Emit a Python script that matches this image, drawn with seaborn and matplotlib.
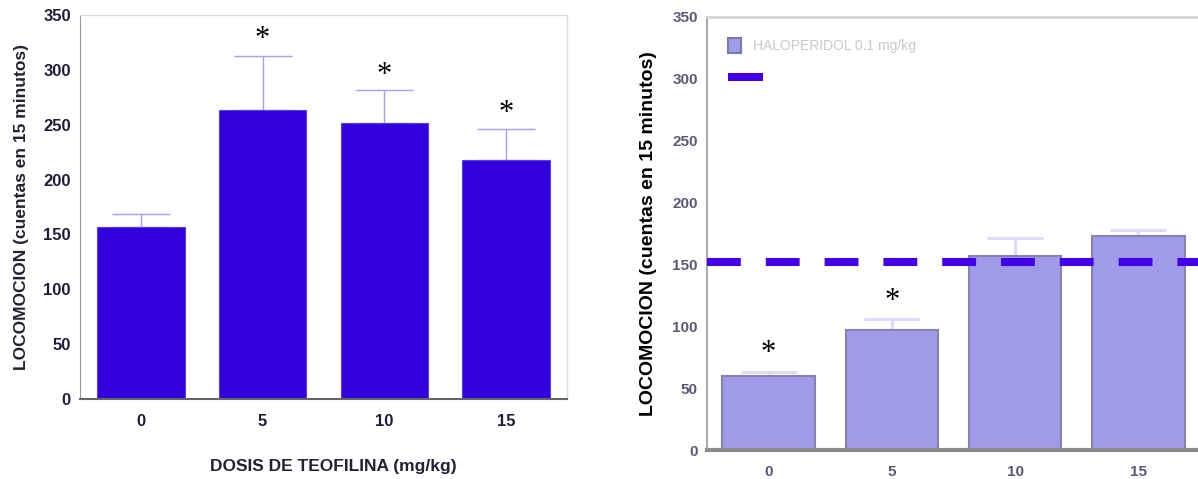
import numpy as np
import matplotlib
matplotlib.use("Agg")
import matplotlib.pyplot as plt
import matplotlib.patches as mpatches
from matplotlib.lines import Line2D
from matplotlib.legend_handler import HandlerPatch
import seaborn as sns

# data
doses = ["0", "5", "10", "15"]
teofilina_mean = [157, 263, 252, 218]
teofilina_sem = [12, 50, 30, 28]
teofilina_star = [None, 328, 295, 260]

haloperidol_mean = [60, 97, 157, 173]
haloperidol_sem = [3, 9, 14, 5]
haloperidol_star = [78, 120, None, None]
control_level = 152

y_ticks = [0, 50, 100, 150, 200, 250, 300, 350]
ylabel_txt = "LOCOMOCION (cuentas en 15 minutos)"

sns.set_style("white")
plt.rcParams["font.family"] = ["Liberation Sans", "DejaVu Sans"]

fig = plt.figure(figsize=(11.98, 4.79), dpi=100)
ax1 = fig.add_axes([80 / 1198, 80 / 479, 487 / 1198, 384 / 479])
ax2 = fig.add_axes([707 / 1198, 29 / 479, 493 / 1198, 433 / 479])

# ---- left panel: teofilina ----
sns.barplot(x=doses, y=teofilina_mean, color="#3300dd", saturation=1,
            width=0.72, errorbar=None, ax=ax1, edgecolor="#5a3fe6", linewidth=0.8)
ax1.errorbar(np.arange(len(doses)), teofilina_mean,
             yerr=[np.zeros(len(doses)), teofilina_sem], fmt="none",
             ecolor="#a99ff2", elinewidth=1, capsize=21, capthick=1, zorder=0.5)
for i, s in enumerate(teofilina_star):
    if s is not None:
        ax1.text(i, s, "*", ha="center", va="center", fontsize=22,
                 family="Liberation Serif", color="black")

ax1.set_ylim(0, 350)
ax1.set_xlim(-0.5, 3.5)
ax1.set_yticks(y_ticks)
ax1.tick_params(axis="both", labelsize=12, colors="#888888", length=3, width=0.8)
ax1.tick_params(axis="x", pad=8)
for lab in ax1.get_xticklabels() + ax1.get_yticklabels():
    lab.set_color("#1d1d3a")
    lab.set_fontweight("bold")
for side in ["top", "right"]:
    ax1.spines[side].set_color("#dddddd")
    ax1.spines[side].set_linewidth(1)
ax1.spines["left"].set_color("#999999")
ax1.spines["bottom"].set_color("#666666")
ax1.spines["bottom"].set_linewidth(1.5)
ax1.set_ylabel(ylabel_txt, fontsize=12.5, fontweight="bold", color="#222233")
ax1.yaxis.set_label_coords(-0.105, 0.5)
ax1.set_xlabel("DOSIS DE TEOFILINA (mg/kg)", fontsize=12.5, fontweight="bold", color="#222233")
ax1.xaxis.set_label_coords(0.52, -0.155)

# ---- right panel: haloperidol ----
sns.barplot(x=doses, y=haloperidol_mean, color="#a09be9", saturation=1,
            width=0.75, errorbar=None, ax=ax2, edgecolor="#8683b2", linewidth=1.5)
ax2.errorbar(np.arange(len(doses)), haloperidol_mean,
             yerr=[np.zeros(len(doses)), haloperidol_sem], fmt="none",
             ecolor="#dcd8fa", elinewidth=2, capsize=20, capthick=2, zorder=0.5)
ax2.axhline(control_level, color="#4300e8", lw=5.8, dashes=(4.2, 3.1),
            solid_capstyle="butt", dash_capstyle="butt", zorder=5)
for i, s in enumerate(haloperidol_star):
    if s is not None:
        ax2.text(i, s, "*", ha="center", va="center", fontsize=22,
                 family="Liberation Serif", color="black")

ax2.set_ylim(0, 350)
ax2.set_xlim(-0.5, 3.5)
ax2.set_yticks(y_ticks)
ax2.tick_params(axis="both", labelsize=11, colors="#bbbbbb", length=3, width=1)
ax2.tick_params(axis="x", pad=6, length=5)
for lab in ax2.get_xticklabels() + ax2.get_yticklabels():
    lab.set_color("#5a5a78")
    lab.set_fontweight("bold")
ax2.spines["right"].set_visible(False)
ax2.spines["top"].set_color("#d5d5d5")
ax2.spines["top"].set_linewidth(2)
ax2.spines["left"].set_color("#aaaaaa")
ax2.spines["left"].set_linewidth(1.5)
ax2.spines["bottom"].set_color("#8c8c8c")
ax2.spines["bottom"].set_linewidth(3)
ax2.set_ylabel(ylabel_txt, fontsize=14, fontweight="bold", color="black")
ax2.yaxis.set_label_coords(-0.102, 0.5)


def small_box(legend, orig_handle, xdescent, ydescent, width, height, fontsize):
    return mpatches.Rectangle((-xdescent, -ydescent - 2), 9, height + 4)


class LongLine:
    def legend_artist(self, legend, orig_handle, fontsize, handlebox):
        x0 = -handlebox.xdescent
        y0 = -handlebox.ydescent + handlebox.height / 2
        line = Line2D([x0, x0 + 25], [y0, y0], color=orig_handle.get_color(),
                      lw=orig_handle.get_linewidth(), solid_capstyle="butt")
        handlebox.add_artist(line)
        return line


handles = [mpatches.Patch(facecolor="#a09be9", edgecolor="#7c79a8", linewidth=1.5),
           Line2D([], [], color="#4300e8", lw=5.8)]
leg = ax2.legend(handles, ["HALOPERIDOL 0.1 mg/kg", " "], loc="upper left",
                 bbox_to_anchor=(0.032, 0.962), borderaxespad=0, frameon=False,
                 fontsize=10, handlelength=1.2, handletextpad=0.6, labelspacing=1.3,
                 handler_map={mpatches.Patch: HandlerPatch(patch_func=small_box),
                              Line2D: LongLine()})
for t in leg.get_texts():
    t.set_color("#c8c8c8")

fig.savefig("out.png", dpi=100)
